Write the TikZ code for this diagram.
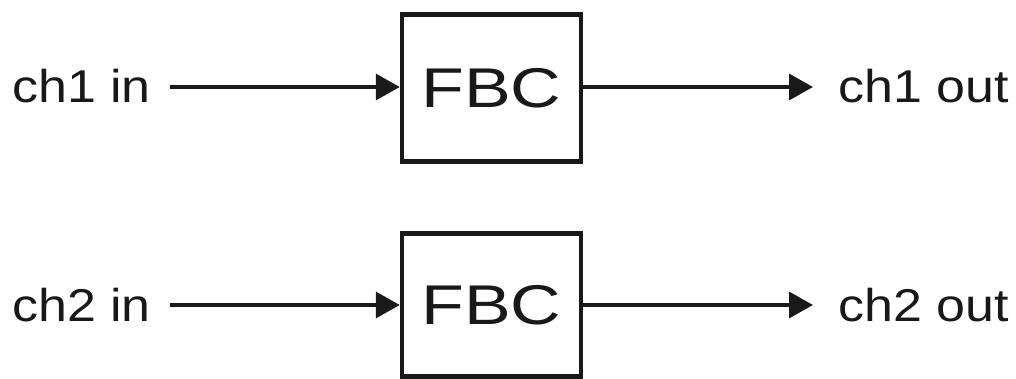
\documentclass[tikz,border=0pt]{standalone}
\usepackage{fontspec}
\setmainfont{Liberation Sans}
\usetikzlibrary{arrows.meta}
\tikzset{
  fbcbox/.style={draw=black!90, line width=4.5pt, minimum width=179pt, inner sep=0pt, text=black!90,
    font=\fontsize{56}{60}\selectfont},
  lbl/.style={inner sep=0pt, anchor=base west, text=black!90, font=\fontsize{46}{50}\selectfont},
  sig/.style={draw=black!90, line width=3.5pt, -{Triangle[length=24pt,width=26pt]}}
}
\begin{document}
\begin{tikzpicture}[x=1pt,y=1pt]
\useasboundingbox (0,0) rectangle (1016,-379);
% row 1
\node[fbcbox, minimum height=147pt] (fbc1) at (491.5,-88) {\scalebox{1.25}[1]{FBC}};
\node[lbl] (in1) at (12,-103) {\scalebox{1.13}[1]{ch1 in}};
\node[lbl] (out1) at (838,-103) {\scalebox{1.13}[1]{ch1 out}};
\coordinate (s1) at (170,-87);
\coordinate (e1) at (813,-87);
\draw[sig] (s1) -- (s1 -| fbc1.west);
\draw[sig] (fbc1.east |- e1) -- (e1);
% row 2
\node[fbcbox, minimum height=143pt] (fbc2) at (491.5,-305) {\scalebox{1.25}[1]{FBC}};
\node[lbl] (in2) at (12,-321) {\scalebox{1.13}[1]{ch2 in}};
\node[lbl] (out2) at (838,-321) {\scalebox{1.13}[1]{ch2 out}};
\coordinate (s2) at (170,-305);
\coordinate (e2) at (813,-305);
\draw[sig] (s2) -- (s2 -| fbc2.west);
\draw[sig] (fbc2.east |- e2) -- (e2);
\end{tikzpicture}
\end{document}
